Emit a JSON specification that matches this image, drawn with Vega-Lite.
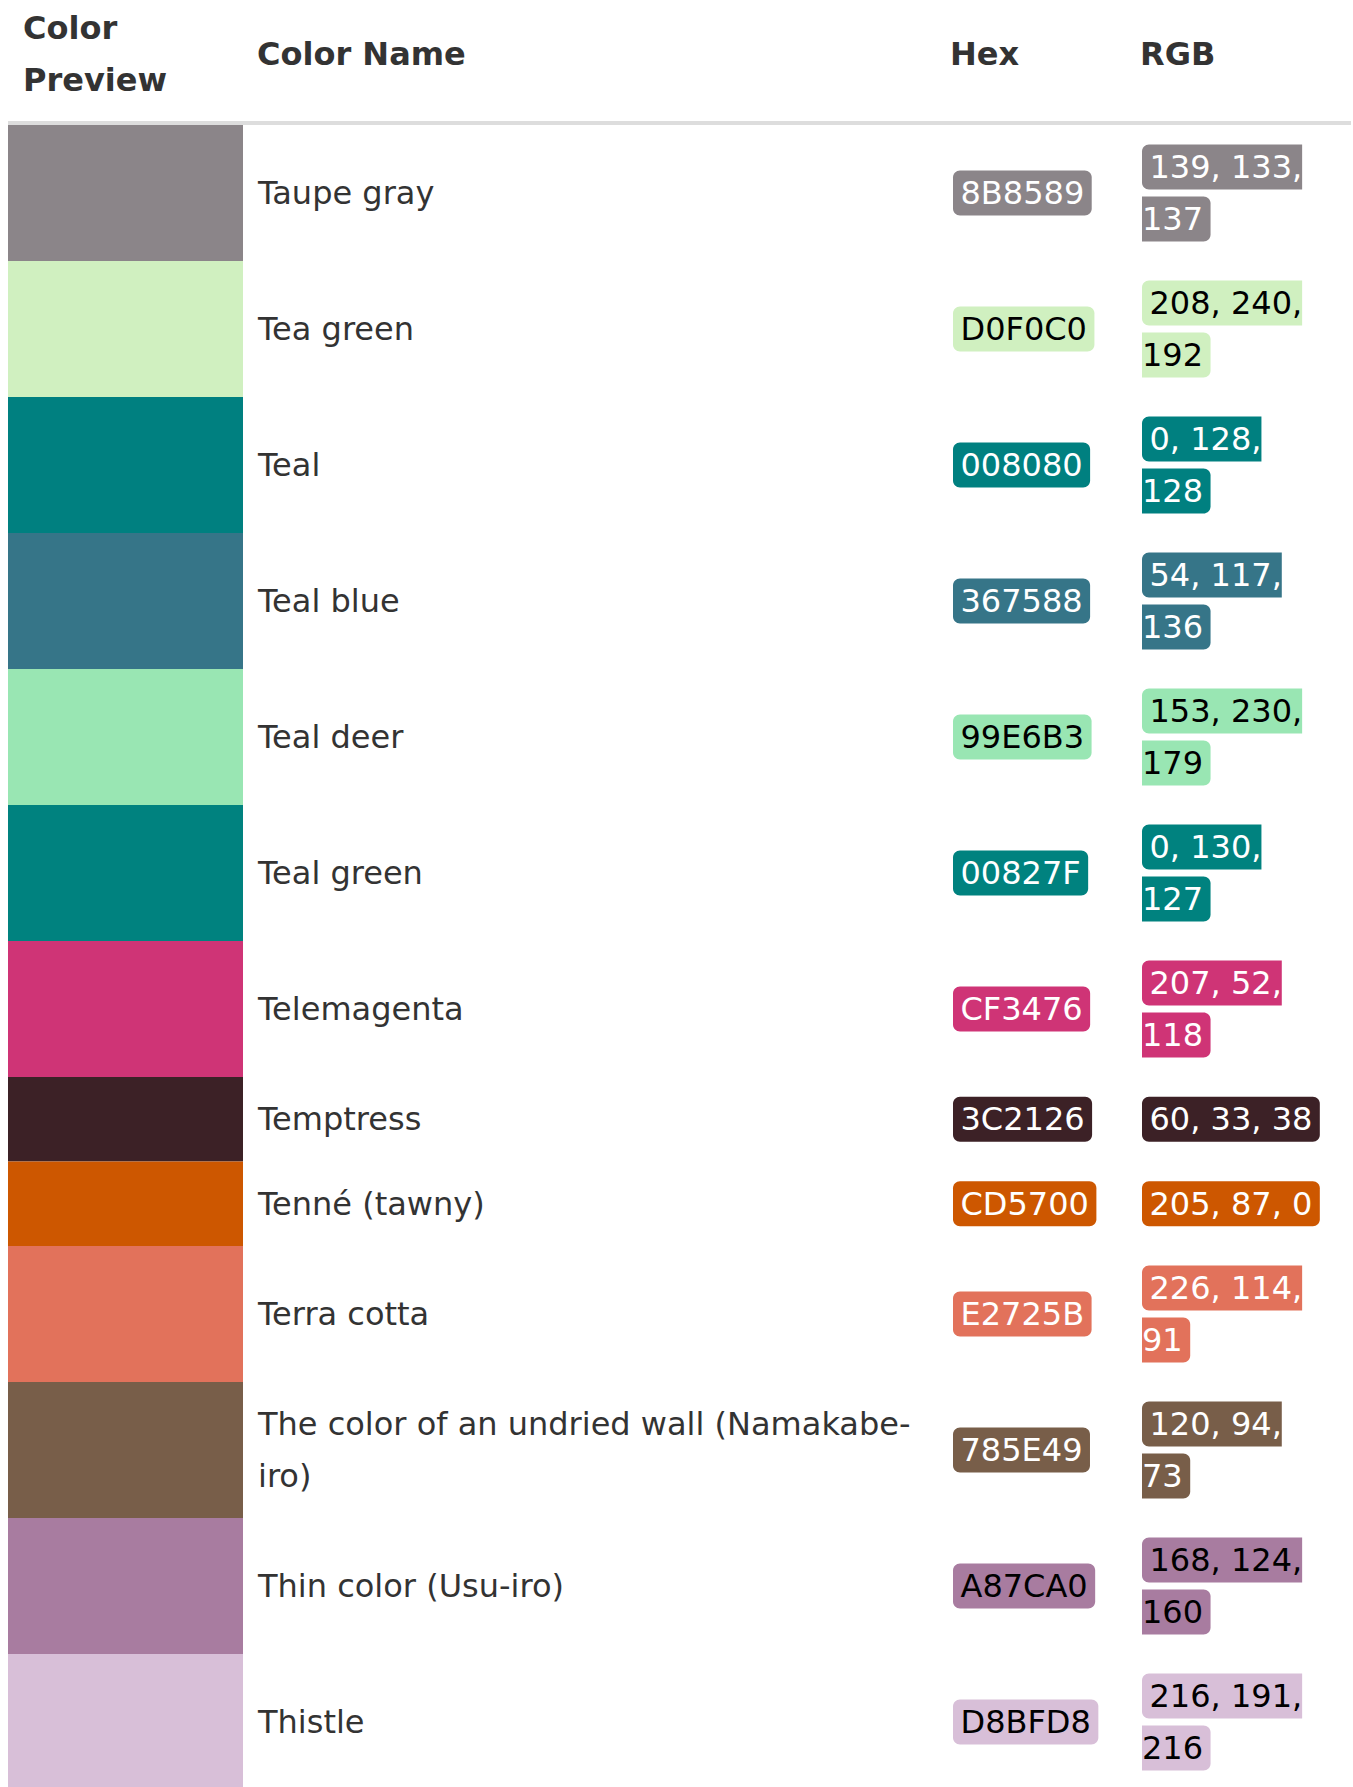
{
  "$schema": "https://vega.github.io/schema/vega-lite/v6.json",
  "width": 1353,
  "height": 1787,
  "padding": 0,
  "autosize": {"type": "fit", "contains": "padding"},
  "background": "#ffffff",
  "config": {
    "view": {"stroke": null},
    "text": {"font": "DejaVu Sans", "fontSize": 32}
  },
  "layer": [
    {
      "data": {"values": [{"rule": "header"}]},
      "transform": [{"calculate": "8", "as": "rx1"}, {"calculate": "1351", "as": "rx2"}, {"calculate": "123", "as": "ry"}],
      "mark": {"type": "rule", "strokeWidth": 4, "color": "#dddddd"},
      "encoding": {
        "x": {"field": "rx1", "type": "quantitative", "scale": {"domain": [0, 1353], "nice": false, "zero": false}, "axis": null},
        "x2": {"field": "rx2"},
        "y": {"field": "ry", "type": "quantitative", "scale": {"domain": [0, 1787], "nice": false, "zero": false, "reverse": true}, "axis": null}
      }
    },
    {
      "data": {"values": [{"label": "Color\nPreview"}]},
      "mark": {"type": "text", "align": "left", "baseline": "middle", "dy": 1, "fontWeight": "bold", "lineBreak": "\n", "lineHeight": 52, "color": "#333333"},
      "encoding": {
        "x": {"datum": 23, "type": "quantitative", "scale": {"domain": [0, 1353], "nice": false, "zero": false}, "axis": null},
        "y": {"datum": 28, "type": "quantitative", "scale": {"domain": [0, 1787], "nice": false, "zero": false, "reverse": true}, "axis": null},
        "text": {"field": "label", "type": "nominal"}
      }
    },
    {
      "data": {"values": [{"label": "Color Name"}]},
      "mark": {"type": "text", "align": "left", "baseline": "middle", "dy": 1, "fontWeight": "bold", "color": "#333333"},
      "encoding": {
        "x": {"datum": 257, "type": "quantitative", "scale": {"domain": [0, 1353], "nice": false, "zero": false}, "axis": null},
        "y": {"datum": 54, "type": "quantitative", "scale": {"domain": [0, 1787], "nice": false, "zero": false, "reverse": true}, "axis": null},
        "text": {"field": "label", "type": "nominal"}
      }
    },
    {
      "data": {"values": [{"label": "Hex"}]},
      "mark": {"type": "text", "align": "left", "baseline": "middle", "dy": 1, "fontWeight": "bold", "color": "#333333"},
      "encoding": {
        "x": {"datum": 950, "type": "quantitative", "scale": {"domain": [0, 1353], "nice": false, "zero": false}, "axis": null},
        "y": {"datum": 54, "type": "quantitative", "scale": {"domain": [0, 1787], "nice": false, "zero": false, "reverse": true}, "axis": null},
        "text": {"field": "label", "type": "nominal"}
      }
    },
    {
      "data": {"values": [{"label": "RGB"}]},
      "mark": {"type": "text", "align": "left", "baseline": "middle", "dy": 1, "fontWeight": "bold", "color": "#333333"},
      "encoding": {
        "x": {"datum": 1140, "type": "quantitative", "scale": {"domain": [0, 1353], "nice": false, "zero": false}, "axis": null},
        "y": {"datum": 54, "type": "quantitative", "scale": {"domain": [0, 1787], "nice": false, "zero": false, "reverse": true}, "axis": null},
        "text": {"field": "label", "type": "nominal"}
      }
    },
    {
      "data": {
        "values": [
          {"name": "Taupe gray", "hex": "8B8589", "rgb1": "139, 133,", "rgb2": "137", "fg": "#ffffff"},
          {"name": "Tea green", "hex": "D0F0C0", "rgb1": "208, 240,", "rgb2": "192", "fg": "#000000"},
          {"name": "Teal", "hex": "008080", "rgb1": "0, 128,", "rgb2": "128", "fg": "#ffffff"},
          {"name": "Teal blue", "hex": "367588", "rgb1": "54, 117,", "rgb2": "136", "fg": "#ffffff"},
          {"name": "Teal deer", "hex": "99E6B3", "rgb1": "153, 230,", "rgb2": "179", "fg": "#000000"},
          {"name": "Teal green", "hex": "00827F", "rgb1": "0, 130,", "rgb2": "127", "fg": "#ffffff"},
          {"name": "Telemagenta", "hex": "CF3476", "rgb1": "207, 52,", "rgb2": "118", "fg": "#ffffff"},
          {"name": "Temptress", "hex": "3C2126", "rgb1": "60, 33, 38", "rgb2": "", "fg": "#ffffff"},
          {"name": "Tenné (tawny)", "hex": "CD5700", "rgb1": "205, 87, 0", "rgb2": "", "fg": "#ffffff"},
          {"name": "Terra cotta", "hex": "E2725B", "rgb1": "226, 114,", "rgb2": "91", "fg": "#ffffff"},
          {"name": "The color of an undried wall (Namakabe-\niro)", "hex": "785E49", "rgb1": "120, 94,", "rgb2": "73", "fg": "#ffffff"},
          {"name": "Thin color (Usu-iro)", "hex": "A87CA0", "rgb1": "168, 124,", "rgb2": "160", "fg": "#000000"},
          {"name": "Thistle", "hex": "D8BFD8", "rgb1": "216, 191,", "rgb2": "216", "fg": "#000000"}
        ]
      },
      "transform": [
        {"calculate": "datum.rgb2 == '' ? 1 : 2", "as": "lines"},
        {"calculate": "33 + 51.5 * datum.lines", "as": "h"},
        {"window": [{"op": "sum", "field": "h", "as": "cum"}], "frame": [null, 0]},
        {"calculate": "125 + datum.cum", "as": "ybot"},
        {"calculate": "datum.ybot - datum.h", "as": "ytop"},
        {"calculate": "datum.ybot - datum.h / 2", "as": "ymid"},
        {"calculate": "length(split(datum.name, '\\n'))", "as": "nameLines"},
        {"calculate": "datum.ymid - 26 * (datum.nameLines - 1)", "as": "ny"},
        {"calculate": "datum.ymid - 26 * (datum.lines - 1)", "as": "l1"},
        {"calculate": "datum.ymid + 26", "as": "l2"},
        {"calculate": "'#' + datum.hex", "as": "swatch"},
        {"calculate": "8", "as": "swX1"},
        {"calculate": "243", "as": "swX2"},
        {"calculate": "953", "as": "hexX1"},
        {"calculate": "1142", "as": "rgbX1"},
        {"calculate": "length(replace(datum.hex, regexp('[^0-9]', 'g'), '')) * 0.636 + (length(split(datum.hex, 'A')) - 1) * 0.684 + (length(split(datum.hex, 'B')) - 1) * 0.686 + (length(split(datum.hex, 'C')) - 1) * 0.698 + (length(split(datum.hex, 'D')) - 1) * 0.770 + (length(split(datum.hex, 'E')) - 1) * 0.632 + (length(split(datum.hex, 'F')) - 1) * 0.575", "as": "hexEm"},
        {"calculate": "length(replace(datum.rgb1, regexp('[^0-9]', 'g'), '')) * 0.636 + length(replace(datum.rgb1, regexp('[^, ]', 'g'), '')) * 0.318", "as": "rgb1Em"},
        {"calculate": "length(replace(datum.rgb2, regexp('[^0-9]', 'g'), '')) * 0.636 + length(replace(datum.rgb2, regexp('[^, ]', 'g'), '')) * 0.318", "as": "rgb2Em"},
        {"calculate": "datum.hexX1 + 32 * datum.hexEm + 15", "as": "hexX2"},
        {"calculate": "datum.rgbX1 + 32 * datum.rgb1Em + (datum.lines == 2 ? 7.5 : 15)", "as": "rgb1X2"},
        {"calculate": "datum.rgbX1 + 32 * datum.rgb2Em + 7.5", "as": "rgb2X2"},
        {"calculate": "datum.ymid - 22.5", "as": "hya"},
        {"calculate": "datum.ymid + 22.5", "as": "hyb"},
        {"calculate": "datum.l1 - 22.5", "as": "b1a"},
        {"calculate": "datum.l1 + 22.5", "as": "b1b"},
        {"calculate": "datum.l2 - 22.5", "as": "b2a"},
        {"calculate": "datum.l2 + 22.5", "as": "b2b"}
      ],
      "layer": [
        {
          "mark": {"type": "rect", "clip": true},
          "encoding": {
            "x": {"field": "swX1", "type": "quantitative", "scale": {"domain": [0, 1353], "nice": false, "zero": false}, "axis": null},
            "x2": {"field": "swX2"},
            "y": {"field": "ytop", "type": "quantitative", "scale": {"domain": [0, 1787], "nice": false, "zero": false, "reverse": true}, "axis": null},
            "y2": {"field": "ybot"},
            "color": {"field": "swatch", "type": "nominal", "scale": null}
          }
        },
        {
          "mark": {"type": "text", "align": "left", "baseline": "middle", "dy": 1, "lineBreak": "\n", "lineHeight": 52, "color": "#333333"},
          "encoding": {
            "x": {"datum": 258, "type": "quantitative", "scale": {"domain": [0, 1353], "nice": false, "zero": false}, "axis": null},
            "y": {"field": "ny", "type": "quantitative", "scale": {"domain": [0, 1787], "nice": false, "zero": false, "reverse": true}, "axis": null},
            "text": {"field": "name", "type": "nominal"}
          }
        },
        {
          "mark": {"type": "rect", "cornerRadius": 7},
          "encoding": {
            "x": {"field": "hexX1", "type": "quantitative", "scale": {"domain": [0, 1353], "nice": false, "zero": false}, "axis": null},
            "x2": {"field": "hexX2"},
            "y": {"field": "hya", "type": "quantitative", "scale": {"domain": [0, 1787], "nice": false, "zero": false, "reverse": true}, "axis": null},
            "y2": {"field": "hyb"},
            "color": {"field": "swatch", "type": "nominal", "scale": null}
          }
        },
        {
          "mark": {"type": "text", "align": "left", "baseline": "middle", "dy": 1},
          "encoding": {
            "x": {"datum": 960.5, "type": "quantitative", "scale": {"domain": [0, 1353], "nice": false, "zero": false}, "axis": null},
            "y": {"field": "ymid", "type": "quantitative", "scale": {"domain": [0, 1787], "nice": false, "zero": false, "reverse": true}, "axis": null},
            "text": {"field": "hex", "type": "nominal"},
            "color": {"field": "fg", "type": "nominal", "scale": null}
          }
        },
        {
          "transform": [{"filter": "datum.lines == 1"}],
          "mark": {"type": "rect", "cornerRadius": 7},
          "encoding": {
            "x": {"field": "rgbX1", "type": "quantitative", "scale": {"domain": [0, 1353], "nice": false, "zero": false}, "axis": null},
            "x2": {"field": "rgb1X2"},
            "y": {"field": "b1a", "type": "quantitative", "scale": {"domain": [0, 1787], "nice": false, "zero": false, "reverse": true}, "axis": null},
            "y2": {"field": "b1b"},
            "color": {"field": "swatch", "type": "nominal", "scale": null}
          }
        },
        {
          "transform": [{"filter": "datum.lines == 2"}],
          "mark": {"type": "rect", "cornerRadiusTopLeft": 7, "cornerRadiusBottomLeft": 7},
          "encoding": {
            "x": {"field": "rgbX1", "type": "quantitative", "scale": {"domain": [0, 1353], "nice": false, "zero": false}, "axis": null},
            "x2": {"field": "rgb1X2"},
            "y": {"field": "b1a", "type": "quantitative", "scale": {"domain": [0, 1787], "nice": false, "zero": false, "reverse": true}, "axis": null},
            "y2": {"field": "b1b"},
            "color": {"field": "swatch", "type": "nominal", "scale": null}
          }
        },
        {
          "transform": [{"filter": "datum.lines == 2"}],
          "mark": {"type": "rect", "cornerRadiusTopRight": 7, "cornerRadiusBottomRight": 7},
          "encoding": {
            "x": {"field": "rgbX1", "type": "quantitative", "scale": {"domain": [0, 1353], "nice": false, "zero": false}, "axis": null},
            "x2": {"field": "rgb2X2"},
            "y": {"field": "b2a", "type": "quantitative", "scale": {"domain": [0, 1787], "nice": false, "zero": false, "reverse": true}, "axis": null},
            "y2": {"field": "b2b"},
            "color": {"field": "swatch", "type": "nominal", "scale": null}
          }
        },
        {
          "mark": {"type": "text", "align": "left", "baseline": "middle", "dy": 1},
          "encoding": {
            "x": {"datum": 1149.5, "type": "quantitative", "scale": {"domain": [0, 1353], "nice": false, "zero": false}, "axis": null},
            "y": {"field": "l1", "type": "quantitative", "scale": {"domain": [0, 1787], "nice": false, "zero": false, "reverse": true}, "axis": null},
            "text": {"field": "rgb1", "type": "nominal"},
            "color": {"field": "fg", "type": "nominal", "scale": null}
          }
        },
        {
          "transform": [{"filter": "datum.lines == 2"}],
          "mark": {"type": "text", "align": "left", "baseline": "middle", "dy": 1},
          "encoding": {
            "x": {"datum": 1142, "type": "quantitative", "scale": {"domain": [0, 1353], "nice": false, "zero": false}, "axis": null},
            "y": {"field": "l2", "type": "quantitative", "scale": {"domain": [0, 1787], "nice": false, "zero": false, "reverse": true}, "axis": null},
            "text": {"field": "rgb2", "type": "nominal"},
            "color": {"field": "fg", "type": "nominal", "scale": null}
          }
        }
      ]
    }
  ]
}
